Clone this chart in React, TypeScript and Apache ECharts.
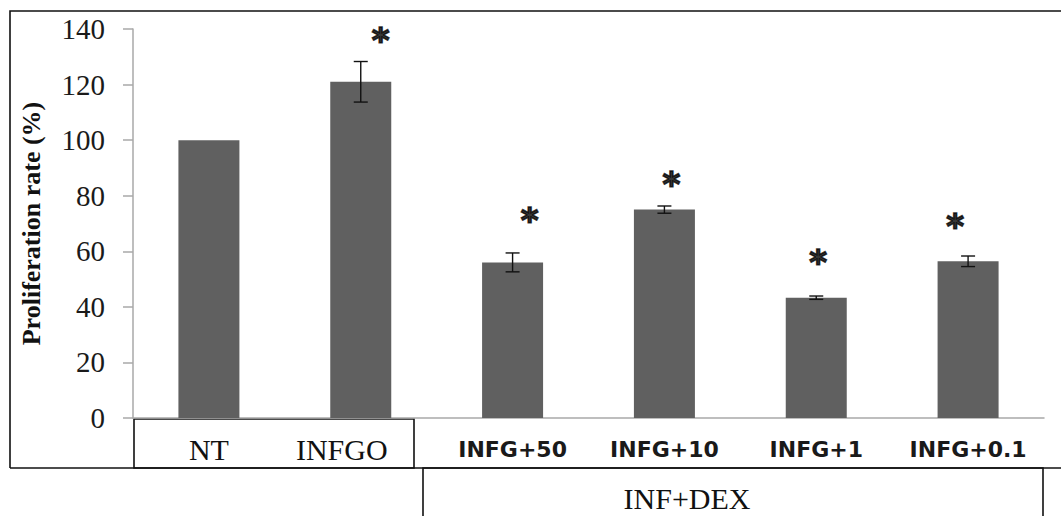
import React, { useEffect, useRef } from "react";
import * as echarts from "echarts";

const categories = ["NT", "INFGO", "INFG+50", "INFG+10", "INFG+1", "INFG+0.1"];
const proliferation = [100, 121, 56, 75, 43.3, 56.4];
const errors = [0, 7.3, 3.4, 1.3, 0.6, 1.9];
const starLevels: (number | null)[] = [null, 138, 73, 86, 58, 71];
const yMin = 0;
const yMax = 140;
const yStep = 20;
const groupLabel = "INF+DEX";
const yTitle = "Proliferation rate (%)";

const SERIF = "'Liberation Serif', 'Times New Roman', serif";
const SANS = "'DejaVu Sans', Verdana, sans-serif";

export default function App() {
  const ref = useRef<HTMLDivElement>(null);
  useEffect(() => {
    if (!ref.current) return;
    const chart = echarts.init(ref.current, null, { renderer: "svg" });
    const starOffsets = [0, 20, 17, 7, 2, -13];
    const starData = starLevels
      .map((v, i) => (v == null ? null : { value: [i, v], label: { offset: [starOffsets[i], 5] } }))
      .filter((d) => d !== null);
    const option: any = {
      animation: false,
      backgroundColor: "#ffffff",
      grid: { left: 133, top: 29, width: 911, height: 389, containLabel: false },
      xAxis: {
        type: "category",
        data: categories,
        axisLine: { show: true, lineStyle: { color: "#a8a8a8", width: 1.5 } },
        axisTick: { show: false },
        axisLabel: {
          interval: 0,
          margin: 16,
          formatter: (val: string, idx: number) =>
            idx === 0 ? `{s|${val}}` : idx === 1 ? `{sl|${val}}` : `{b|${val}}`,
          rich: {
            s: { fontFamily: SERIF, fontSize: 30, color: "#111", lineHeight: 30 },
            sl: { fontFamily: SERIF, fontSize: 30, color: "#111", lineHeight: 30, padding: [0, 38, 0, 0] },
            b: { fontFamily: SANS, fontSize: 22, fontWeight: "bold", color: "#1a1a1a", lineHeight: 30 },
          },
        },
      },
      yAxis: {
        type: "value",
        min: yMin,
        max: yMax,
        interval: yStep,
        name: yTitle,
        nameLocation: "middle",
        nameGap: 89,
        nameTextStyle: { fontFamily: SERIF, fontSize: 26, fontWeight: "bold", color: "#111" },
        axisLine: { show: true, lineStyle: { color: "#a8a8a8", width: 1.5 } },
        axisTick: { show: true, length: 10, lineStyle: { color: "#a8a8a8", width: 1.5 } },
        axisLabel: { margin: 28, fontFamily: SERIF, fontSize: 29, color: "#1a1a1a" },
        splitLine: { show: false },
      },
      series: [
        {
          type: "bar",
          data: proliferation,
          barWidth: 61,
          itemStyle: { color: "#606060" },
        },
        {
          type: "custom",
          data: categories.map((c, i) => [i, proliferation[i], errors[i]]),
          encode: { x: 0, y: 1 },
          z: 5,
          renderItem: (params: any, api: any) => {
            const i = api.value(0);
            const v = api.value(1);
            const e = api.value(2);
            if (!e) return null;
            const top = api.coord([i, v + e]);
            const bot = api.coord([i, v - e]);
            const hw = 7;
            const st = { stroke: "#111", lineWidth: 1.4 };
            return {
              type: "group",
              children: [
                { type: "line", shape: { x1: top[0], y1: top[1], x2: bot[0], y2: bot[1] }, style: st },
                { type: "line", shape: { x1: top[0] - hw, y1: top[1], x2: top[0] + hw, y2: top[1] }, style: st },
                { type: "line", shape: { x1: bot[0] - hw, y1: bot[1], x2: bot[0] + hw, y2: bot[1] }, style: st },
              ],
            };
          },
        },
        {
          type: "scatter",
          data: starData,
          symbol: "circle",
          symbolSize: 1,
          itemStyle: { color: "rgba(0,0,0,0)" },
          z: 6,
          label: {
            show: true,
            position: "inside",
            formatter: () => "*",
            fontFamily: SANS,
            fontSize: 34,
            fontWeight: "bold",
            color: "#000",
            textBorderColor: "#000",
            textBorderWidth: 1.6,
          },
        },
      ],
      graphic: [
        {
          type: "polyline",
          shape: { points: [[10, 468], [10, 11], [1061, 11]] },
          style: { stroke: "#111", lineWidth: 1.6, fill: null },
        },
        {
          type: "line",
          shape: { x1: 10, y1: 468, x2: 1061, y2: 468 },
          style: { stroke: "#111", lineWidth: 1.6 },
        },
        {
          type: "rect",
          shape: { x: 134, y: 419, width: 280, height: 49 },
          style: { stroke: "#111", lineWidth: 1.6, fill: null },
        },
        {
          type: "rect",
          shape: { x: 423, y: 468, width: 620, height: 60 },
          style: { stroke: "#111", lineWidth: 1.6, fill: null },
        },
        {
          type: "text",
          x: 687,
          y: 498,
          style: {
            text: groupLabel,
            fontFamily: SERIF,
            fontSize: 30,
            fill: "#111",
            align: "center",
            verticalAlign: "middle",
          },
        },
      ],
    };
    chart.setOption(option);
    return () => chart.dispose();
  }, []);
  return (
    <div
      ref={ref}
      style={{ position: "fixed", left: 0, top: 0, width: 1061, height: 516, background: "#fff" }}
    />
  );
}
